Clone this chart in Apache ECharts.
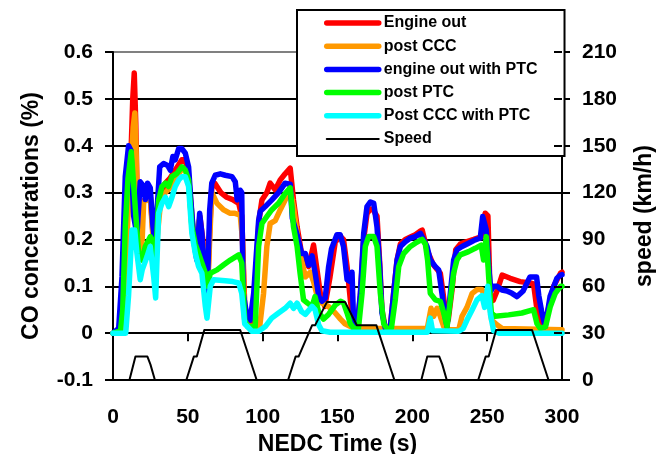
<!DOCTYPE html>
<html>
<head>
<meta charset="utf-8">
<script src="https://cdn.jsdelivr.net/npm/echarts@6/dist/echarts.min.js"></script>
<style>
  html, body { margin: 0; padding: 0; background: #fff; }
  #chart { width: 672px; height: 454px; }
</style>
</head>
<body>
<div id="chart"></div>
<script>
// [time (s), value] pairs
const engineOut = [[0,0],[4,0],[6,0.05],[8,0.2],[10,0.33],[12,0.38],[13.2,0.5],[14.2,0.555],[15.2,0.45],[16.2,0.28],[18,0.26],[20,0.28],[23,0.29],[25,0.29],[27,0.2],[28.5,0.17],[30,0.27],[32,0.3],[35,0.32],[38,0.33],[40,0.34],[42,0.35],[44,0.36],[46,0.37],[48,0.37],[50,0.35],[52,0.28],[54,0.2],[56,0.17],[58,0.25],[60,0.2],[62,0.12],[63,0.08],[64.6,0.22],[66,0.31],[68,0.32],[72,0.3],[76,0.29],[80,0.285],[84,0.277],[86,0.25],[88,0.06],[90,0.025],[92,0.02],[94,0.05],[95.5,0.12],[97.5,0.24],[99.5,0.284],[102.8,0.3],[105,0.32],[108.4,0.306],[111.7,0.327],[115,0.34],[118.4,0.352],[120.6,0.284],[123,0.227],[126,0.17],[128.5,0.156],[130.7,0.142],[134,0.188],[136,0.142],[138.5,0.085],[141.5,0.057],[145,0.12],[148.5,0.195],[152,0.206],[154,0.2],[156.4,0.142],[158.6,0.071],[160.8,0.015],[163,0.007],[165.3,0.08],[167.5,0.2],[169.7,0.255],[172,0.265],[174.2,0.262],[175.3,0.255],[176.4,0.25],[178.2,0.15],[179.7,0.05],[182,0.01],[185.3,0.012],[187.5,0.085],[189.8,0.156],[192,0.19],[195.3,0.2],[198.7,0.205],[202,0.21],[205,0.217],[206.6,0.22],[209.8,0.178],[214,0.146],[218.7,0.128],[222,0.05],[224,0.028],[226.5,0.092],[229,0.178],[232,0.19],[236,0.195],[241,0.2],[246.5,0.206],[248.7,0.256],[250.5,0.25],[252,0.078],[254,0.07],[256.6,0.09],[260,0.124],[265.4,0.117],[272,0.11],[278.6,0.107],[281,0.105],[283,0.057],[286.6,0.02],[290,0.04],[294.4,0.1],[299,0.128],[300,0.13]];

const postCCC = [[0,0],[6,0.01],[8,0.1],[10,0.25],[12,0.35],[13.5,0.44],[14.6,0.47],[15.5,0.38],[16.5,0.2],[18.2,0.17],[19.5,0.2],[20.5,0.28],[22.5,0.284],[25,0.284],[27,0.19],[28.5,0.16],[30,0.22],[31.5,0.27],[33,0.29],[35,0.3],[38,0.31],[40,0.32],[42,0.33],[44,0.34],[46,0.35],[48.3,0.35],[50.5,0.33],[52.7,0.23],[55,0.19],[57.5,0.24],[59.4,0.2],[61.7,0.156],[63.2,0.09],[64.6,0.2],[66,0.3],[69.5,0.277],[74,0.263],[78,0.256],[81,0.256],[85,0.252],[86.5,0.2],[88,0.03],[90,0.015],[95,0.014],[98,0.014],[100.6,0.085],[102.8,0.185],[105,0.234],[108.4,0.24],[111.7,0.263],[115,0.284],[118.4,0.305],[120.6,0.27],[123,0.213],[125,0.17],[128.5,0.12],[131.8,0.13],[134,0.11],[136,0.085],[139.6,0.064],[144,0.057],[148.5,0.043],[152,0.03],[155,0.02],[160,0.012],[165,0.01],[210,0.01],[212.5,0.053],[214.3,0.036],[216.5,0.053],[218.7,0.036],[221,0.014],[224,0.007],[231,0.007],[233.2,0.036],[236.5,0.055],[240,0.085],[243.2,0.093],[246.5,0.093],[248.7,0.075],[250,0.09],[251,0.075],[253,0.028],[256.5,0.018],[260,0.01],[300,0.007]];

const engineOutPTC = [[0,0],[3.8,0.01],[6,0.12],[8.2,0.334],[10.4,0.4],[12,0.39],[13.8,0.25],[16,0.21],[18.2,0.323],[20.5,0.313],[21.6,0.285],[23.1,0.32],[24.9,0.31],[26.7,0.227],[28.3,0.185],[29.4,0.26],[31.2,0.355],[33.8,0.362],[36.5,0.358],[38.3,0.348],[40,0.377],[41.6,0.37],[43.9,0.394],[46,0.394],[48.3,0.384],[50.5,0.355],[52,0.284],[54.3,0.19],[56,0.156],[57.9,0.256],[59.4,0.213],[61,0.128],[62.8,0.07],[64.6,0.263],[66,0.32],[68.3,0.337],[71.7,0.34],[75,0.337],[79.5,0.334],[81.7,0.323],[83,0.284],[85,0.305],[86,0.3],[87,0.085],[89.5,0.036],[91.7,0.028],[94,0.085],[97.3,0.24],[98.4,0.26],[101.7,0.27],[106,0.284],[110.6,0.3],[115,0.32],[118.4,0.318],[119.8,0.245],[123,0.21],[126,0.17],[128.5,0.17],[130.7,0.145],[133,0.165],[135,0.13],[137.5,0.078],[139.6,0.068],[141.8,0.075],[144,0.14],[146,0.18],[149.6,0.21],[151.8,0.21],[154,0.185],[156.4,0.114],[158.6,0.11],[159.7,0.13],[160.8,0.02],[163,0.007],[165.3,0.085],[167.5,0.213],[169.7,0.27],[172,0.28],[174.2,0.277],[176.4,0.227],[178.2,0.142],[179.7,0.043],[182,0.01],[185.3,0.012],[187.5,0.085],[189.8,0.156],[192,0.185],[195.3,0.195],[198.7,0.203],[202,0.206],[205.4,0.213],[207.6,0.199],[209.8,0.185],[212,0.156],[215.4,0.142],[217.6,0.135],[219.8,0.085],[221.4,0.043],[223.2,0.014],[225.4,0.085],[227.6,0.156],[229.8,0.178],[233.2,0.185],[237.6,0.192],[242,0.199],[245.4,0.203],[247,0.249],[248.3,0.252],[249.4,0.22],[251,0.142],[252.5,0.09],[254.3,0.1],[256.5,0.1],[259.9,0.092],[263.2,0.09],[266.6,0.085],[270,0.078],[274,0.09],[278.6,0.12],[283,0.12],[284.5,0.08],[286.6,0.043],[288.8,0.014],[292,0.078],[296.6,0.117],[299,0.124],[300,0.125]];

const postPTC = [[0,0],[5,0.005],[6.5,0.05],[8.2,0.227],[10,0.33],[12.2,0.387],[13.5,0.33],[15,0.263],[17.1,0.17],[19.4,0.156],[21.6,0.185],[25,0.206],[26.7,0.195],[28.3,0.15],[30.5,0.284],[32.7,0.313],[35,0.32],[37,0.313],[39.4,0.334],[42.7,0.341],[46,0.355],[48.3,0.348],[50.5,0.327],[52.7,0.227],[55,0.19],[57.2,0.17],[59.4,0.15],[61.7,0.128],[63.2,0.1],[65,0.128],[69.5,0.135],[74,0.146],[78.4,0.156],[84,0.167],[86,0.15],[88,0.028],[90,0.014],[95,0.014],[97.3,0.185],[99.5,0.234],[102.8,0.249],[106,0.263],[110.6,0.277],[115,0.298],[118.4,0.31],[120.6,0.227],[123,0.185],[125,0.128],[127.3,0.071],[130,0.064],[133,0.057],[135,0.078],[137.4,0.045],[140.7,0.03],[144,0.04],[148.5,0.06],[152,0.068],[154,0.065],[156.4,0.043],[158.6,0.02],[161,0.01],[164,0.01],[166.4,0.085],[168.6,0.185],[170.8,0.206],[174.2,0.206],[176.4,0.185],[178.6,0.085],[180.9,0.02],[183,0.01],[186,0.01],[188.6,0.071],[190.9,0.142],[194.2,0.17],[198.7,0.185],[202,0.192],[206.5,0.2],[208.7,0.19],[210.2,0.156],[212,0.085],[215.4,0.071],[218.7,0.068],[221,0.043],[223.2,0.014],[225.4,0.071],[227.6,0.128],[229.8,0.156],[232,0.167],[237.6,0.174],[242,0.181],[246,0.188],[247.6,0.156],[249.4,0.206],[251,0.12],[252.8,0.043],[255.4,0.036],[264.3,0.039],[273.2,0.043],[281,0.05],[283.3,0.02],[285.5,0.01],[289,0.014],[292.2,0.057],[295.5,0.085],[299,0.1],[300,0.1]];

const postCCCPTC = [[0,0],[8.5,0],[10.4,0.08],[12.7,0.22],[14.5,0.22],[16,0.17],[18.2,0.114],[19.5,0.135],[22.7,0.163],[24.9,0.185],[27.2,0.12],[28.5,0.075],[30.5,0.256],[32.7,0.277],[35,0.29],[37.2,0.27],[39.4,0.29],[41.6,0.313],[43.9,0.327],[46,0.334],[48.3,0.334],[50.5,0.313],[52.7,0.213],[55,0.17],[57.2,0.142],[59.4,0.128],[61.7,0.057],[62.8,0.032],[65,0.1],[67.2,0.114],[75,0.112],[80,0.11],[84,0.107],[86,0.085],[88,0.02],[92.8,0.004],[97.3,0.004],[101.7,0.014],[106,0.032],[110.6,0.043],[115,0.053],[118.4,0.064],[120.6,0.053],[123,0.064],[126,0.046],[128.5,0.04],[133,0.057],[135,0.05],[137.4,0.018],[139.6,0.005],[145,0.002],[210,0.002],[212,0.032],[213.5,0.005],[231,0.004],[234,0.01],[236.5,0.028],[240,0.05],[243.2,0.071],[246.5,0.08],[248.3,0.055],[250.4,0.1],[252.2,0.04],[254.3,0.005],[258,0],[300,0]];

const speed = [[0,0],[11,0],[15,15],[23,15],[25,10],[28,0],[49,0],[54,15],[56,15],[61,32],[85,32],[96,0],[117,0],[122,15],[124,15],[133,35],[135,35],[143,50],[155,50],[163,35],[176,35],[188,0],[206,0],[210,15],[218,15],[220,10],[223,0],[244,0],[249,15],[251,15],[256,32],[280,32],[291,0],[300,0]];

const seriesNames = ['Engine out', 'post CCC', 'engine out with PTC', 'post PTC', 'Post CCC with PTC', 'Speed'];
const seriesColors = ['#ff0000', '#ff9900', '#0000ff', '#00ff00', '#00ffff', '#000000'];
const seriesData = [engineOut, postCCC, engineOutPTC, postPTC, postCCCPTC, speed];

const font = 'Liberation Sans, Arial, sans-serif';
const chart = echarts.init(document.getElementById('chart'));

const yAxisBase = {
  type: 'value',
  axisLine: { show: true, lineStyle: { color: '#000', width: 2 } },
  axisTick: { show: true, length: 8, lineStyle: { color: '#000', width: 2 } },
  axisLabel: { color: '#000', fontFamily: font, fontSize: 21, fontWeight: 'bold', margin: 20 },
  nameLocation: 'middle',
  nameTextStyle: { color: '#000', fontFamily: font, fontSize: 23, fontWeight: 'bold' }
};

chart.setOption({
  animation: false,
  grid: { left: 113, right: 110, top: 52, bottom: 74, outerBoundsMode: 'none', containLabel: false },
  legend: {
    left: 297, top: 10, orient: 'vertical',
    backgroundColor: '#fff', borderColor: '#000', borderWidth: 2,
    padding: [5, 27, 9, 27],
    itemWidth: 52, itemHeight: 14, itemGap: 7.2,
    itemStyle: { opacity: 0, color: 'rgba(0,0,0,0)', borderWidth: 0 },
    lineStyle: { width: 'inherit' },
    textStyle: { color: '#000', fontFamily: font, fontSize: 16, fontWeight: 'bold' },
    data: seriesNames
  },
  xAxis: {
    type: 'value', min: 0, max: 300, interval: 50,
    name: 'NEDC Time (s)', nameLocation: 'middle', nameGap: 49,
    nameTextStyle: { color: '#000', fontFamily: font, fontSize: 23, fontWeight: 'bold' },
    axisLine: { lineStyle: { color: '#000', width: 2 } },
    axisTick: { length: 8, lineStyle: { color: '#000', width: 2 } },
    axisLabel: { color: '#000', fontFamily: font, fontSize: 21, fontWeight: 'bold', margin: 27 },
    splitLine: { show: false }
  },
  yAxis: [
    Object.assign({}, yAxisBase, {
      min: -0.1, max: 0.6, interval: 0.1, position: 'left',
      name: 'CO concentrations (%)', nameGap: 70,
      splitLine: { show: true, lineStyle: { width: 2, color: ['#000', '#000', '#000', '#000', '#000', '#000', '#000', '#808080'] } }
    }),
    Object.assign({}, yAxisBase, {
      min: 0, max: 210, interval: 30, position: 'right',
      name: 'speed (km/h)', nameGap: 71,
      splitLine: { show: false }
    }),
    {
      type: 'value', min: 0, max: 210, interval: 30, position: 'right', z: 6,
      axisLine: { show: false },
      axisTick: { show: true, inside: true, length: 8, lineStyle: { color: '#000', width: 2 } },
      axisLabel: { show: false },
      splitLine: { show: false }
    }
  ],
  series: seriesData.map((d, i) => ({
    name: seriesNames[i],
    type: 'line',
    yAxisIndex: i === 5 ? 1 : 0,
    data: d,
    symbol: 'none',
    color: seriesColors[i],
    lineStyle: { color: seriesColors[i], width: i === 5 ? 2 : 5.5, join: 'round', cap: 'round' }
  }))
});
</script>
</body>
</html>
